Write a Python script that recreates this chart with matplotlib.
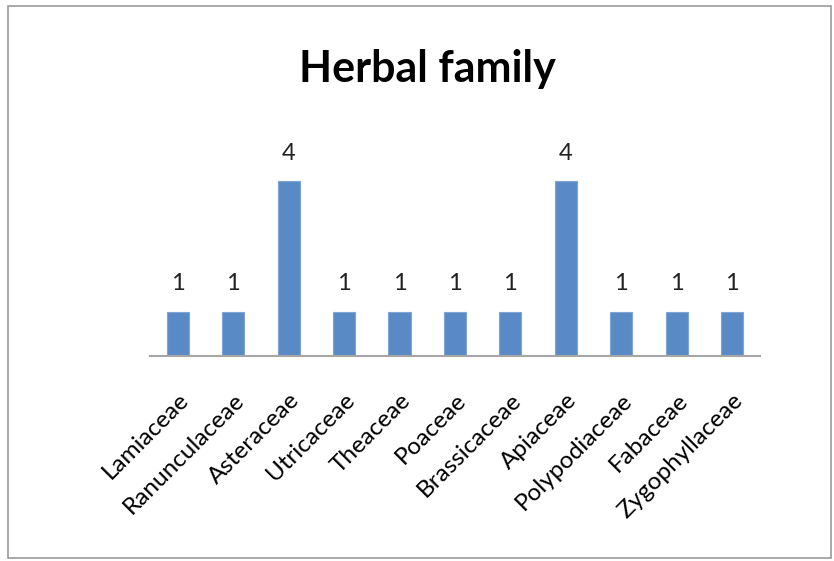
import matplotlib.pyplot as plt
from matplotlib.patches import Rectangle

families = ['Lamiaceae', 'Ranunculaceae', 'Asteraceae', 'Utricaceae', 'Theaceae',
            'Poaceae', 'Brassicaceae', 'Apiaceae', 'Polypodiaceae', 'Fabaceae',
            'Zygophyllaceae']
counts = [1, 1, 4, 1, 1, 1, 1, 4, 1, 1, 1]

plt.rcParams['font.family'] = ['Lato', 'DejaVu Sans']

fig = plt.figure(figsize=(8.34, 5.61), dpi=100)
ax = fig.add_axes([0.18, 0.3654, 0.731, 0.389])

x = range(len(families))
bars = ax.bar(x, counts, width=0.4, color='#5A8AC6', edgecolor='#7FA5D6', linewidth=0.8)
for b, v in zip(bars, counts):
    ax.text(b.get_x() + b.get_width() / 2, v + 0.65, str(v), ha='center', va='center',
            fontsize=17, color='#222222')

ax.set_xlim(-0.5, len(families) - 0.5)
ax.set_ylim(0, 5)
ax.set_xticks(list(x))
ax.set_xticklabels(families, rotation=45, ha='right', va='top', rotation_mode='anchor',
                   fontsize=17.5)
ax.tick_params(axis='x', length=0, pad=24)
ax.set_yticks([])
for side in ['top', 'right', 'left']:
    ax.spines[side].set_visible(False)
ax.spines['bottom'].set_color('#A6A6A6')
ax.spines['bottom'].set_linewidth(1.5)

fig.text(0.512, 0.877, 'Herbal family', ha='center', va='center', fontsize=31,
         fontweight='bold')

# chart border
fig.patches.append(Rectangle((0.009, 0.005), 0.988, 0.985, transform=fig.transFigure,
                             fill=False, edgecolor='#9A9A9A', linewidth=1.2))

fig.savefig('out.png', dpi=100)
